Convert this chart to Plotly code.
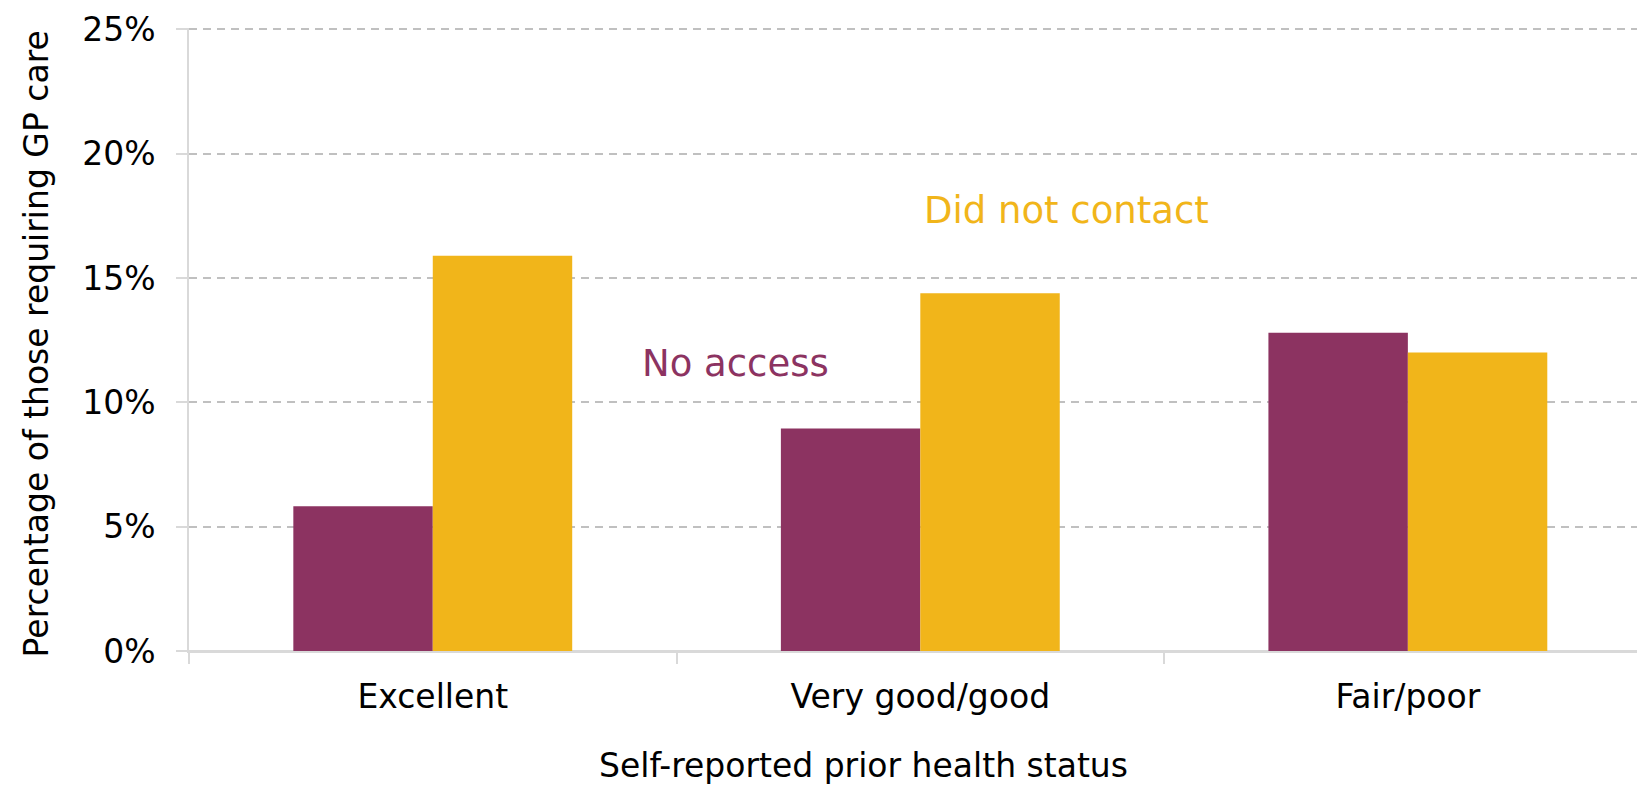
import plotly.graph_objects as go

categories = ["Excellent", "Very good/good", "Fair/poor"]
no_access = [5.82, 8.95, 12.8]
did_not_contact = [15.89, 14.38, 12.0]
y_ticks = [0, 5, 10, 15, 20, 25]
y_tick_labels = ["0%", "5%", "10%", "15%", "20%", "25%"]

PURPLE = "#8C3361"
YELLOW = "#F1B51A"
FONT = "DejaVu Sans"

fig = go.Figure()
fig.add_trace(go.Bar(x=categories, y=no_access, name="No access",
                     marker=dict(color=PURPLE, line=dict(width=0))))
fig.add_trace(go.Bar(x=categories, y=did_not_contact, name="Did not contact",
                     marker=dict(color=YELLOW, line=dict(width=0))))

fig.update_layout(
    width=1637, height=788,
    margin=dict(l=189, r=0, t=28, b=136.5, pad=0),
    paper_bgcolor="white", plot_bgcolor="white",
    barmode="group", bargap=0.428, bargroupgap=0,
    showlegend=False,
    font=dict(family=FONT, size=33, color="#000000"),
)
fig.update_xaxes(
    type="category", range=[-0.5, 2.47],
    showgrid=False, showline=True, linecolor="#D9D9D9", linewidth=1.5,
    ticks="outside", tickson="boundaries", ticklen=11, tickwidth=1.5, tickcolor="#D9D9D9",
    ticklabelstandoff=16,
    tickfont=dict(family=FONT, size=33, color="#000000"),
)
fig.update_yaxes(
    range=[0, 25.05], tickvals=y_ticks, ticktext=y_tick_labels,
    showgrid=True, gridcolor="#C0C0C0", gridwidth=1.5, griddash="8px,6px",
    zeroline=True, zerolinecolor="#D9D9D9", zerolinewidth=1.5,
    showline=True, linecolor="#D9D9D9", linewidth=1.5,
    ticks="outside", ticklen=11, tickwidth=1.5, tickcolor="#D9D9D9",
    ticklabelstandoff=14,
    tickfont=dict(family=FONT, size=33, color="#000000"),
)

fig.add_annotation(text="Did not contact", x=1.299, y=17.72, xref="x", yref="y",
                   showarrow=False, xanchor="center", yanchor="middle",
                   font=dict(family=FONT, size=37, color=YELLOW))
fig.add_annotation(text="No access", x=0.62, y=11.58, xref="x", yref="y",
                   showarrow=False, xanchor="center", yanchor="middle",
                   font=dict(family=FONT, size=37, color=PURPLE))
fig.add_annotation(text="Self-reported prior health status", x=0.466, y=-0.184,
                   xref="paper", yref="paper", showarrow=False,
                   xanchor="center", yanchor="middle",
                   font=dict(family=FONT, size=33, color="#000000"))
fig.add_annotation(text="Percentage of those requiring GP care", x=-0.1053, y=0.493,
                   xref="paper", yref="paper", showarrow=False, textangle=-90,
                   xanchor="center", yanchor="middle",
                   font=dict(family=FONT, size=33, color="#000000"))

fig.write_html("out.html")
